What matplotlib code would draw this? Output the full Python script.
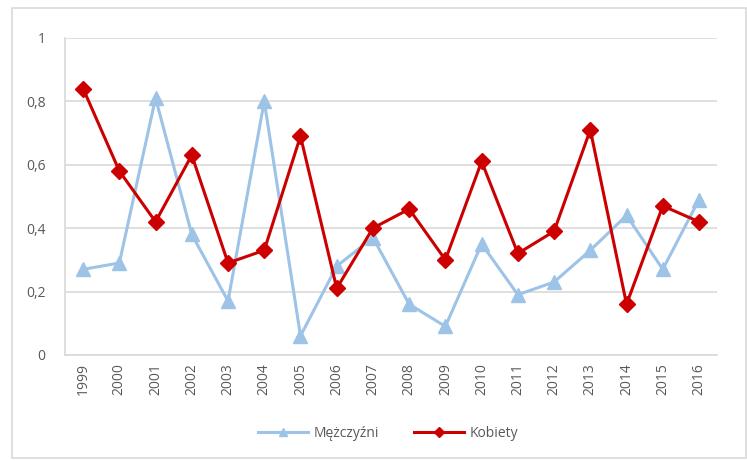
import matplotlib.pyplot as plt
from matplotlib.patches import Rectangle
from matplotlib.ticker import FuncFormatter

plt.rcParams['font.family'] = ['Open Sans', 'DejaVu Sans']

years = ['1999', '2000', '2001', '2002', '2003', '2004', '2005', '2006', '2007',
         '2008', '2009', '2010', '2011', '2012', '2013', '2014', '2015', '2016']
mezczyzni = [0.27, 0.29, 0.81, 0.38, 0.17, 0.80, 0.06, 0.28, 0.37,
             0.16, 0.09, 0.35, 0.19, 0.23, 0.33, 0.44, 0.27, 0.49]
kobiety = [0.84, 0.58, 0.42, 0.63, 0.29, 0.33, 0.69, 0.21, 0.40,
           0.46, 0.30, 0.61, 0.32, 0.39, 0.71, 0.16, 0.47, 0.42]

fig = plt.figure(figsize=(7.47, 4.61), dpi=100)
ax = fig.add_axes([0.087, 0.230, 0.873, 0.688])

x = range(len(years))
ax.plot(x, mezczyzni, color='#9DC3E6', lw=2.2, marker='^', ms=10,
        label='Mężczyźni', zorder=3)
ax.plot(x, kobiety, color='#CC0000', lw=2.2, marker='D', ms=8,
        label='Kobiety', zorder=4)

ax.set_xlim(-0.5, len(years) - 0.5)
ax.set_ylim(0, 1)
ax.set_yticks([0, 0.2, 0.4, 0.6, 0.8, 1])
ax.yaxis.set_major_formatter(FuncFormatter(lambda v, p: ('%g' % v).replace('.', ',')))
ax.set_xticks(list(x))
ax.set_xticklabels(years, rotation=90)
ax.tick_params(length=0, colors='#595959', labelsize=10)
ax.tick_params(axis='y', pad=14)
ax.tick_params(axis='x', pad=6)

ax.grid(axis='y', color='#D9D9D9', lw=1.2)
ax.set_axisbelow(True)
for s in ['top', 'right']:
    ax.spines[s].set_visible(False)
ax.spines['left'].set_color('#D9D9D9')
ax.spines['bottom'].set_color('#D9D9D9')
ax.spines['left'].set_linewidth(1.2)
ax.spines['bottom'].set_linewidth(1.2)

leg = fig.legend(loc='center', bbox_to_anchor=(0.52, 0.06), ncol=2, frameon=False,
                 fontsize=10, handlelength=3.6, columnspacing=2.5, markerscale=0.6,
                 handletextpad=0.4)
for t in leg.get_texts():
    t.set_color('#595959')

fig.patches.append(Rectangle((0.016, 0.006), 0.982, 0.977, transform=fig.transFigure,
                             fill=False, ec='#D9D9D9', lw=1.2))

fig.savefig('out.png', dpi=100)
